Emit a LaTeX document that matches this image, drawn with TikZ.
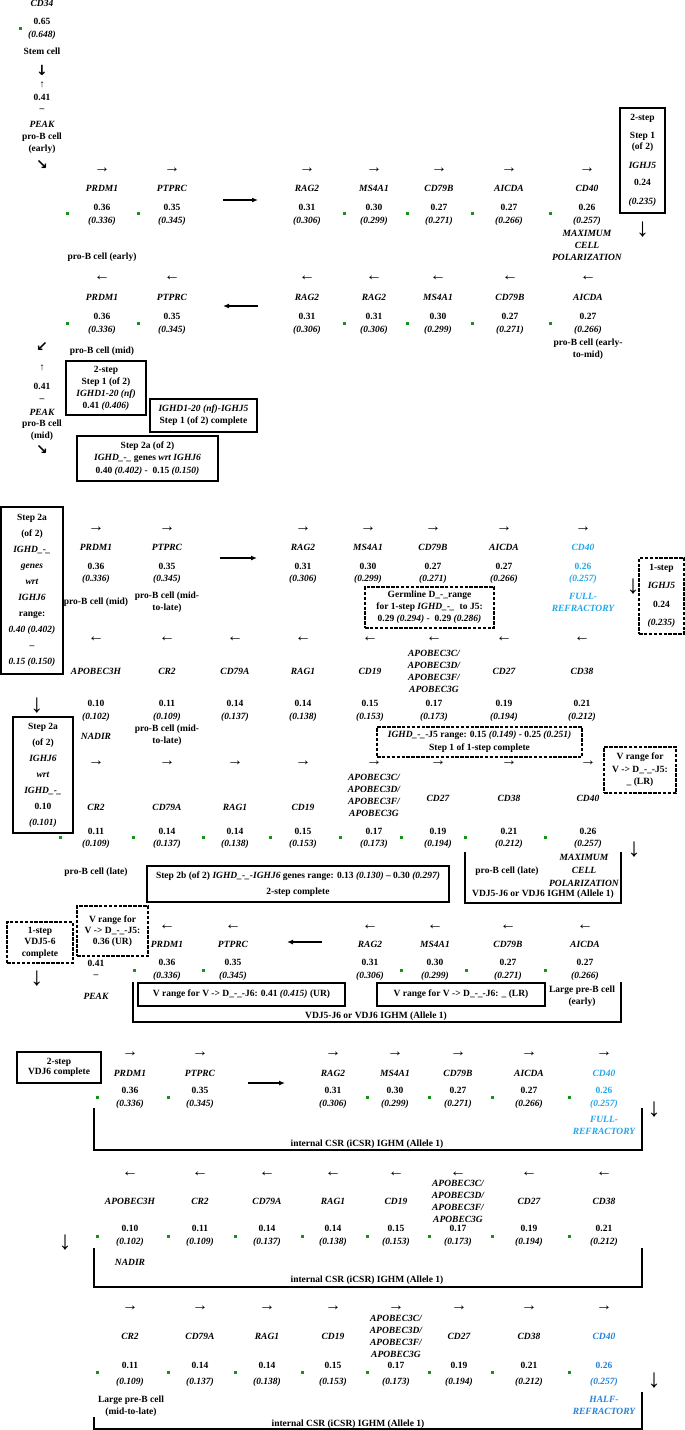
\documentclass[tikz,border=0pt]{standalone}
\usepackage{fontspec}
\setmainfont{Liberation Serif}
\newfontfamily\symfont{DejaVu Sans}
\usetikzlibrary{positioning,arrows.meta}
\tikzset{>={Latex}}
\definecolor{dotgreen}{HTML}{1A8F1A}
\definecolor{fullblue}{HTML}{22A6E8}
\definecolor{halfblue}{HTML}{2381D8}
\newcommand\apo{APOBEC3C/\\APOBEC3D/\\APOBEC3F/\\APOBEC3G}

\begin{document}
\begin{tikzpicture}[x=1pt, y=-1pt,
  txt/.style={font=\fontsize{9.5}{12}\selectfont\bfseries, align=center, inner sep=0pt},
  gn/.style={txt, font=\fontsize{9.5}{12}\selectfont\bfseries\itshape},
  ar/.style={font=\fontsize{16}{16}\selectfont, inner sep=0pt},
  hv/.style={font=\symfont\fontsize{14}{14}\selectfont\bfseries, inner sep=0pt},
  dn/.style={font=\fontsize{26}{26}\selectfont, inner sep=0pt},
  bx/.style={txt, draw, line width=1.5pt},
  dbx/.style={bx, dash pattern=on 3.5pt off 1.4pt},
  brk/.style={line width=1.8pt},
  big/.style={-{Latex[length=6pt,width=5pt]}, line width=1.2pt}]
\useasboundingbox (0,0) rectangle (685,1430);

\node[gn] (cd34) at (42,3) {CD34};
\node[txt] (cd34v) at (42,21) {0.65}; \node[gn] (cd34p) at (42,35) {(0.648)};
\fill[dotgreen] (18.5,26.5) rectangle ++(3,3);
\node[txt] (stem) at (42,51) {Stem cell};
\node[hv] (h1) at (42,70) {↓};
\node[ar, font=\fontsize{10}{10}\selectfont] (u1) at (42,85) {↑};
\node[txt] (pk1v) at (42,97) {0.41}; \node[txt] (pk1d) at (42,110) {–};
\node[gn] (pk1) at (42,124) {PEAK};
\node[txt] (pk1c) at (42,143) {pro-B cell\\(early)};
\node[hv] (h2) at (42,165) {↘};

\foreach \x/\g/\vl/\pv [count=\i] in {102/PRDM1/0.36/0.336, 172/PTPRC/0.35/0.345, 307/RAG2/0.31/0.306, 374/MS4A1/0.30/0.299, 439/CD79B/0.27/0.271, 509/AICDA/0.27/0.266, 587/CD40/0.26/0.257}{
  \node[ar] (a1\i) at (\x,170) {→}; \node[gn] (g1\i) at (\x,188) {\g};
  \node[txt] (v1\i) at (\x,207) {\vl}; \node[gn] (p1\i) at (\x,221) {(\pv)};}
\foreach \x in {67,138,344,407,472,550} \fill[dotgreen] (\x-1.5,211.5) rectangle ++(3,3);
\coordinate (r1s) at (223,200); \coordinate (r1e) at (258,200); \draw[big] (r1s) -- (r1e);
\node[gn] (mx1) at (587,245) {MAXIMUM\\CELL\\POLARIZATION};
\node[bx, font=\fontsize{9.5}{11}\selectfont\bfseries, minimum width=45pt, minimum height=105pt] (b1) at (642.5,160.5) {2-step\\[7pt]Step 1\\(of 2)\\[8pt]\textit{IGHJ5}\\[6pt]0.24\\[8pt]\textit{(0.235)}};
\node[dn, below=8pt of b1] (d1) {↓};
\node[txt] (pe1) at (102,257) {pro-B cell (early)};

\foreach \x/\g/\vl/\pv [count=\i] in {102/PRDM1/0.36/0.336, 172/PTPRC/0.35/0.345, 307/RAG2/0.31/0.306, 374/RAG2/0.31/0.306, 438/MS4A1/0.30/0.299, 510/CD79B/0.27/0.271, 588/AICDA/0.27/0.266}{
  \node[ar] (a2\i) at (\x,278) {←}; \node[gn] (g2\i) at (\x,297) {\g};
  \node[txt] (v2\i) at (\x,316) {\vl}; \node[gn] (p2\i) at (\x,330) {(\pv)};}
\foreach \x in {67,138,344,407,472,550} \fill[dotgreen] (\x-1.5,321.5) rectangle ++(3,3);
\coordinate (r2s) at (258,306); \coordinate (r2e) at (223,306); \draw[big] (r2s) -- (r2e);
\node[txt] (em1) at (588,349.5) {pro-B cell (early-\\to-mid)};
\node[hv] (h3) at (42,347) {↙};
\node[txt] (pm1) at (102,351) {pro-B cell (mid)};
\node[ar, font=\fontsize{10}{10}\selectfont] (u2) at (42,368) {↑};
\node[txt] (pk2v) at (42,386) {0.41}; \node[txt] (pk2d) at (42,400) {–};
\node[gn] (pk2) at (42,412) {PEAK};
\node[txt] (pk2c) at (42,430.5) {pro-B cell\\(mid)};
\node[hv] (h4) at (42,450) {↘};
\node[bx, minimum width=80pt, minimum height=54pt] (b2) at (106,388) {2-step\\Step 1 (of 2)\\\textit{IGHD1-20 (nf)}\\0.41 \textit{(0.406)}};
\node[bx, minimum width=107pt, minimum height=33pt] (b3) at (203.5,415.5) {\textit{IGHD1-20 (nf)-IGHJ5}\\Step 1 (of 2) complete};
\node[bx, font=\fontsize{9.5}{12.5}\selectfont\bfseries, minimum width=141pt, minimum height=45pt] (b4) at (147.5,458.5) {Step 2a (of 2)\\\textit{IGHD\_-\_} genes \textit{wrt IGHJ6}\\0.40 \textit{(0.402)} -\ \ 0.15 \textit{(0.150)}};

\node[bx, font=\fontsize{9.5}{16}\selectfont\bfseries, minimum width=62pt, minimum height=167pt] (b5) at (32,590.5) {Step 2a\\(of 2)\\\textit{IGHD\_-\_}\\\textit{genes}\\\textit{wrt}\\\textit{IGHJ6}\\range:\\\textit{0.40 (0.402)}\\–\\\textit{0.15 (0.150)}};
\foreach \x/\g/\vl/\pv/\cl [count=\i] in {96/PRDM1/0.36/0.336/black, 167/PTPRC/0.35/0.345/black, 303/RAG2/0.31/0.306/black, 368/MS4A1/0.30/0.299/black, 433/CD79B/0.27/0.271/black, 504/AICDA/0.27/0.266/black, 583/CD40/0.26/0.257/fullblue}{
  \node[ar] (a3\i) at (\x,529) {→}; \node[gn, text=\cl] (g3\i) at (\x,547) {\g};
  \node[txt, text=\cl] (v3\i) at (\x,566) {\vl}; \node[gn, text=\cl] (p3\i) at (\x,579) {(\pv)};}
\coordinate (r3s) at (220,558); \coordinate (r3e) at (257,558); \draw[big] (r3s) -- (r3e);
\node[txt] (pm2) at (96,602) {pro-B cell (mid)};
\node[txt] (pml1) at (167,602.5) {pro-B cell (mid-\\to-late)};
\node[gn, text=fullblue] (fr1) at (583,602) {FULL-\\REFRACTORY};
\node[dbx, minimum width=129pt, minimum height=41pt] (d1b) at (429.5,607.5) {Germline D\_-\_range\\for 1-step \textit{IGHD\_-\_}\ \ to J5:\\0.29 \textit{(0.294)} -\ \ 0.29 \textit{(0.286)}};
\node[dbx, font=\fontsize{9.5}{18.3}\selectfont\bfseries, minimum width=45pt, minimum height=76pt] (d2b) at (661.5,596) {1-step\\\textit{IGHJ5}\\0.24\\\textit{(0.235)}};
\node[dn] (dr2) at (633,587) {↓};

\foreach \x/\g/\vl/\pv [count=\i] in {96/APOBEC3H/0.10/0.102, 167/CR2/0.11/0.109, 235/CD79A/0.14/0.137, 303/RAG1/0.14/0.138, 370/CD19/0.15/0.153, 434/\apo/0.17/0.173, 504/CD27/0.19/0.194, 582/CD38/0.21/0.212}{
  \node[ar] (a4\i) at (\x,639) {←}; \node[gn] (g4\i) at (\x,671) {\g};
  \node[txt] (v4\i) at (\x,703) {\vl}; \node[gn] (p4\i) at (\x,717) {(\pv)};}
\node[dn] (dl1) at (37,706) {↓};
\node[gn] (nd1) at (96,736) {NADIR};
\node[txt] (pml2) at (167,735.5) {pro-B cell (mid-\\to-late)};
\node[bx, font=\fontsize{9.5}{16}\selectfont\bfseries, minimum width=60pt, minimum height=116pt] (b6) at (43,775) {Step 2a\\(of 2)\\\textit{IGHJ6}\\\textit{wrt}\\\textit{IGHD\_-\_}\\0.10\\\textit{(0.101)}};
\node[dbx, font=\fontsize{9.5}{13}\selectfont\bfseries, minimum width=205pt, minimum height=30pt] (d3b) at (479.5,742) {\textit{IGHD\_-\_}-J5 range: 0.15 \textit{(0.149)} - 0.25 \textit{(0.251)}\\Step 1 of 1-step complete};
\node[dbx, font=\fontsize{9.5}{12.5}\selectfont\bfseries, minimum width=72pt, minimum height=46pt] (d4b) at (640,770) {V range for\\V -> D\_-\_-J5:\\\_ (LR)};

\foreach \x/\g/\vl/\pv/\yn [count=\i] in {96/CR2/0.11/0.109/807, 167/CD79A/0.14/0.137/807, 235/RAG1/0.14/0.138/807, 303/CD19/0.15/0.153/807, 374/\apo/0.17/0.173/795.5, 438/CD27/0.19/0.194/798, 509/CD38/0.21/0.212/798, 588/CD40/0.26/0.257/798}{
  \node[ar] (a5\i) at (\x,763) {→}; \node[gn] (g5\i) at (\x,\yn) {\g};
  \node[txt] (v5\i) at (\x,831) {\vl}; \node[gn] (p5\i) at (\x,844) {(\pv)};}
\foreach \x in {60,133,203,270,340,401,465,545} \fill[dotgreen] (\x-1.5,835.5) rectangle ++(3,3);
\node[dn] (dr3) at (634,850) {↓};
\draw[brk] (465,852) |- (621,903) -- (621,852);
\node[gn, font=\fontsize{9.5}{13}\selectfont\bfseries\itshape] (mx2) at (584,870) {MAXIMUM\\CELL\\POLARIZATION};
\node[txt] (pl1) at (507,871) {pro-B cell (late)};
\node[txt] (vdj1) at (543,894) {VDJ5-J6 or VDJ6 IGHM (Allele 1)};
\node[txt] (pl2) at (96,872) {pro-B cell (late)};
\node[bx, font=\fontsize{9.5}{16}\selectfont\bfseries, minimum width=302pt, minimum height=36pt] (b7) at (298,884) {Step 2b (of 2) \textit{IGHD\_-\_-IGHJ6} genes range: 0.13 \textit{(0.130)} – 0.30 \textit{(0.297)}\\2-step complete};

\node[dbx, font=\fontsize{9.5}{11}\selectfont\bfseries, minimum width=71pt, minimum height=50pt] (d5b) at (112.5,931) {V range for\\V -> D\_-\_-J5:\\0.36 (UR)};
\node[dbx, font=\fontsize{9.5}{11.5}\selectfont\bfseries, minimum width=66pt, minimum height=41pt] (d6b) at (40,942.5) {1-step\\VDJ5-6\\complete};
\node[dn] (dl2) at (37,979) {↓};
\foreach \x/\g/\vl/\pv [count=\i] in {167/PRDM1/0.36/0.336, 233/PTPRC/0.35/0.345, 370/RAG2/0.31/0.306, 435/MS4A1/0.30/0.299, 508/CD79B/0.27/0.271, 585/AICDA/0.27/0.266}{
  \node[ar] (a6\i) at (\x,927) {←}; \node[gn] (g6\i) at (\x,944) {\g};
  \node[txt] (v6\i) at (\x,962) {\vl}; \node[gn] (p6\i) at (\x,976) {(\pv)};}
\foreach \x in {134,203,401,466,545} \fill[dotgreen] (\x-1.5,968.5) rectangle ++(3,3);
\coordinate (r6s) at (322,942); \coordinate (r6e) at (287,942); \draw[big] (r6s) -- (r6e);
\node[txt] (pk3v) at (96,963) {0.41}; \node[txt] (pk3d) at (96,976) {–};
\node[gn] (pk3) at (96,996) {PEAK};
\draw[brk] (133,982) |- (621,1022) -- (621,982);
\node[bx, minimum width=207pt, minimum height=23pt] (b8) at (241.5,994.5) {V range for V -> D\_-\_-J6: 0.41 \textit{(0.415)} (UR)};
\node[bx, minimum width=168pt, minimum height=23pt] (b9) at (461,994.5) {V range for V -> D\_-\_-J6: \_ (LR)};
\node[txt] (lpe) at (582,996.5) {Large pre-B cell\\(early)};
\node[txt] (vdj2) at (376,1016) {VDJ5-J6 or VDJ6 IGHM (Allele 1)};

\node[bx, font=\fontsize{9.5}{10.5}\selectfont\bfseries, minimum width=84pt, minimum height=31pt] (b10) at (59,1067.5) {2-step\\VDJ6 complete};
\foreach \x/\g/\vl/\pv/\cl [count=\i] in {130/PRDM1/0.36/0.336/black, 200/PTPRC/0.35/0.345/black, 333/RAG2/0.31/0.306/black, 395/MS4A1/0.30/0.299/black, 458/CD79B/0.27/0.271/black, 529/AICDA/0.27/0.266/black, 604/CD40/0.26/0.257/fullblue}{
  \node[ar] (a7\i) at (\x,1054) {→}; \node[gn, text=\cl] (g7\i) at (\x,1073) {\g};
  \node[txt, text=\cl] (v7\i) at (\x,1090) {\vl}; \node[gn, text=\cl] (p7\i) at (\x,1104) {(\pv)};}
\foreach \x in {97,168,367,429,492,569} \fill[dotgreen] (\x-1.5,1095.5) rectangle ++(3,3);
\coordinate (r7s) at (248,1083); \coordinate (r7e) at (285,1083); \draw[big] (r7s) -- (r7e);
\node[gn, text=fullblue] (fr2) at (604,1125) {FULL-\\REFRACTORY};
\node[dn] (dr4) at (654,1110) {↓};
\draw[brk] (94,1108) |- (642,1150) -- (642,1108);
\node[txt] (cs1) at (367,1144) {internal CSR (iCSR) IGHM (Allele 1)};

\foreach \x/\g/\vl/\pv [count=\i] in {130/APOBEC3H/0.10/0.102, 200/CR2/0.11/0.109, 267/CD79A/0.14/0.137, 333/RAG1/0.14/0.138, 396/CD19/0.15/0.153, 458/\apo/0.17/0.173, 529/CD27/0.19/0.194, 604/CD38/0.21/0.212}{
  \node[ar] (a8\i) at (\x,1174) {←}; \node[gn] (g8\i) at (\x,1201.5) {\g};
  \node[txt] (v8\i) at (\x,1228) {\vl}; \node[gn] (p8\i) at (\x,1242) {(\pv)};}
\foreach \x in {97,168,235,302,367,429,492,569} \fill[dotgreen] (\x-1.5,1234.5) rectangle ++(3,3);
\node[dn] (dl3) at (65,1243) {↓};
\node[gn] (nd2) at (130,1262) {NADIR};
\draw[brk] (94,1248) |- (642,1287) -- (642,1248);
\node[txt] (cs2) at (367,1280) {internal CSR (iCSR) IGHM (Allele 1)};

\foreach \x/\g/\vl/\pv/\cl [count=\i] in {130/CR2/0.11/0.109/black, 200/CD79A/0.14/0.137/black, 267/RAG1/0.14/0.138/black, 333/CD19/0.15/0.153/black, 396/\apo/0.17/0.173/black, 459/CD27/0.19/0.194/black, 529/CD38/0.21/0.212/black, 604/CD40/0.26/0.257/halfblue}{
  \node[ar] (a9\i) at (\x,1308) {→}; \node[gn, text=\cl] (g9\i) at (\x,1336) {\g};
  \node[txt, text=\cl] (v9\i) at (\x,1365) {\vl}; \node[gn, text=\cl] (p9\i) at (\x,1382) {(\pv)};}
\foreach \x in {97,168,235,302,367,429,492,569} \fill[dotgreen] (\x-1.5,1370.5) rectangle ++(3,3);
\node[gn, text=halfblue] (hr1) at (604,1405.5) {HALF-\\REFRACTORY};
\node[txt] (lpm) at (131,1406.5) {Large pre-B cell\\(mid-to-late)};
\node[dn] (dr5) at (654,1381) {↓};
\draw[brk] (94,1417) |- (642,1429) -- (642,1392);
\node[txt] (cs3) at (348,1424) {internal CSR (iCSR) IGHM (Allele 1)};
\end{tikzpicture}
\end{document}
